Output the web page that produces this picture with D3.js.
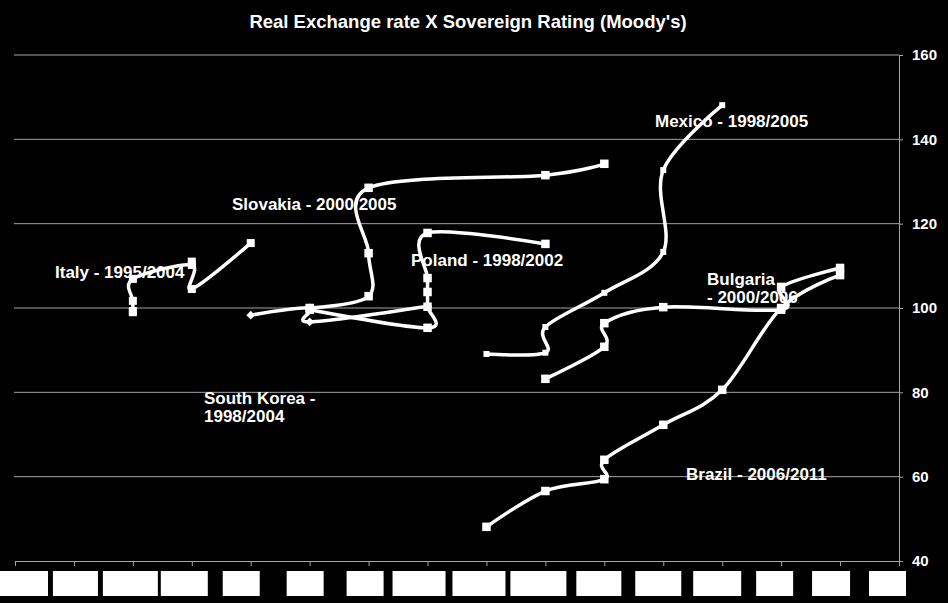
<!DOCTYPE html>
<html>
<head>
<meta charset="utf-8">
<script src="https://cdn.jsdelivr.net/npm/d3@7"></script>
<style>
  html, body { margin: 0; padding: 0; background: #000; }
  svg { display: block; }
  text { font-family: "Liberation Sans", Arial, sans-serif; font-weight: bold; fill: #fff; }
</style>
</head>
<body>
<svg width="948" height="603"></svg>
<script>
// rating positions on the x axis (labels hidden in the source, 16 notches)
const ratingSteps = d3.range(16);
const yTicks = [40, 60, 80, 100, 120, 140, 160];

// [rating step, real exchange rate] in time order
const italy    = [[2, 99.3], [2, 101.7], [2, 106.9], [3, 110.2], [3, 104.5], [4, 115.4]];
const slovakia = [[5, 100.0], [6, 102.8], [6, 113.0], [6, 128.5], [9, 131.5], [10, 134.2]];
const poland   = [[5, 99.6], [7, 95.3], [7, 100.3], [7, 103.8], [7, 107.1], [7, 117.8], [9, 115.2]];
const korea    = [[4, 98.3], [5, 100.0], [5, 96.7], [7, 100.4]];
const mexico   = [[8, 89.1], [9, 89.4], [9, 95.5], [10, 103.6], [11, 113.3], [11, 132.7], [12, 148.1]];
const bulgaria = [[9, 83.2], [10, 90.8], [10, 96.4], [11, 100.2], [13, 99.6], [13, 105.0], [14, 109.5]];
const brazil   = [[8, 48.1], [9, 56.6], [10, 59.4], [10, 64.0], [11, 72.3], [12, 80.6], [13, 100.0], [14, 107.8]];
// extra overlapping readings drawn as markers only
const italyMarks = [[3, 111.0], [2, 99.0]];

const series = [
  {name: "Italy", data: italy, extra: italyMarks, marker: "square", size: 8},
  {name: "Slovakia", data: slovakia, marker: "square", size: 8.5},
  {name: "Poland", data: poland, marker: "square", size: 8.5},
  {name: "South Korea", data: korea, marker: "diamond", size: 7},
  {name: "Mexico", data: mexico, marker: "square", size: 6},
  {name: "Bulgaria", data: bulgaria, marker: "square", size: 8.5},
  {name: "Brazil", data: brazil, marker: "square", size: 8.5}
];

const labels = [
  {lines: ["Italy - 1995/2004"], x: 55, y: 278},
  {lines: ["Slovakia - 2000/2005"], x: 232, y: 210},
  {lines: ["Poland - 1998/2002"], x: 411, y: 266},
  {lines: ["Mexico - 1998/2005"], x: 655, y: 127},
  {lines: ["Bulgaria", "- 2000/2006"], x: 707, y: 285},
  {lines: ["South Korea -", "1998/2004"], x: 204, y: 404},
  {lines: ["Brazil - 2006/2011"], x: 686, y: 480}
];

const svg = d3.select("svg");
const plotLeft = 15, plotRight = 899, plotTop = 55, plotBottom = 561;

const x = d3.scaleLinear().domain([0, 15]).range([plotLeft, plotRight]);
const y = d3.scaleLinear().domain([40, 160]).range([plotBottom, plotTop]);

// title
svg.append("text")
  .attr("x", 468).attr("y", 28)
  .attr("text-anchor", "middle")
  .attr("font-size", 18.5)
  .text("Real Exchange rate X Sovereign Rating (Moody's)");

// gridlines
svg.append("g").selectAll("line")
  .data(yTicks.filter(d => d > 40))
  .enter().append("line")
  .attr("x1", plotLeft - 1).attr("x2", plotRight)
  .attr("y1", d => y(d)).attr("y2", d => y(d))
  .attr("stroke", "#a4a4a4").attr("stroke-width", 1);

// right axis
const yAxis = svg.append("g")
  .attr("transform", `translate(${plotRight},0)`)
  .call(d3.axisRight(y).tickValues(yTicks).tickSize(4).tickPadding(9));
yAxis.select(".domain").attr("stroke", "#a4a4a4");
yAxis.selectAll(".tick line").attr("stroke", "#a4a4a4");
yAxis.selectAll(".tick text")
  .attr("fill", "#fff").attr("font-size", 15)
  .attr("font-family", "Liberation Sans, Arial, sans-serif").attr("font-weight", "bold");

// bottom axis
const xAxis = svg.append("g")
  .attr("transform", `translate(0,${plotBottom})`)
  .call(d3.axisBottom(x).tickValues(ratingSteps).tickSize(5).tickFormat(""));
xAxis.select(".domain").attr("stroke", "#a4a4a4");
xAxis.selectAll(".tick line").attr("stroke", "#a4a4a4");

// masked rating labels: white boxes under each notch
const boxSpans = [[-33, 33], [-21, 24], [-30, 25], [-31, 16], [-28, 9], [-23, 14], [-22, 15], [-35, 18],
                  [-34, 19], [-35, 21], [-28, 17], [-28, 18], [-29, 19], [-25, 12], [-28, 10], [-30, 7]];
svg.append("g").selectAll("rect")
  .data(ratingSteps)
  .enter().append("rect")
  .attr("x", d => x(d) + boxSpans[d][0])
  .attr("width", d => boxSpans[d][1] - boxSpans[d][0])
  .attr("y", 571).attr("height", 25)
  .attr("fill", "#fff");

// lines
const line = d3.line()
  .x(d => x(d[0]))
  .y(d => y(d[1]))
  .curve(d3.curveCardinal.tension(0));

const g = svg.append("g");
g.selectAll("path.series")
  .data(series)
  .enter().append("path")
  .attr("class", "series")
  .attr("d", d => line(d.data))
  .attr("fill", "none")
  .attr("stroke", "#fff")
  .attr("stroke-width", 3.5);

// markers
series.forEach(s => {
  const pts = s.data.concat(s.extra || []);
  if (s.marker === "diamond") {
    g.selectAll(null).data(pts).enter().append("path")
      .attr("d", d3.symbol(d3.symbolDiamond2, s.size * s.size))
      .attr("transform", d => `translate(${x(d[0])},${y(d[1])})`)
      .attr("fill", "#fff");
  } else {
    g.selectAll(null).data(pts).enter().append("rect")
      .attr("x", d => x(d[0]) - s.size / 2)
      .attr("y", d => y(d[1]) - s.size / 2)
      .attr("width", s.size).attr("height", s.size)
      .attr("fill", "#fff");
  }
});

// series labels
labels.forEach(l => {
  const t = svg.append("text")
    .attr("x", l.x).attr("y", l.y)
    .attr("font-size", 17);
  l.lines.forEach((s, i) => {
    t.append("tspan").attr("x", l.x).attr("dy", i ? 18 : 0).text(s);
  });
});
</script>
</body>
</html>
